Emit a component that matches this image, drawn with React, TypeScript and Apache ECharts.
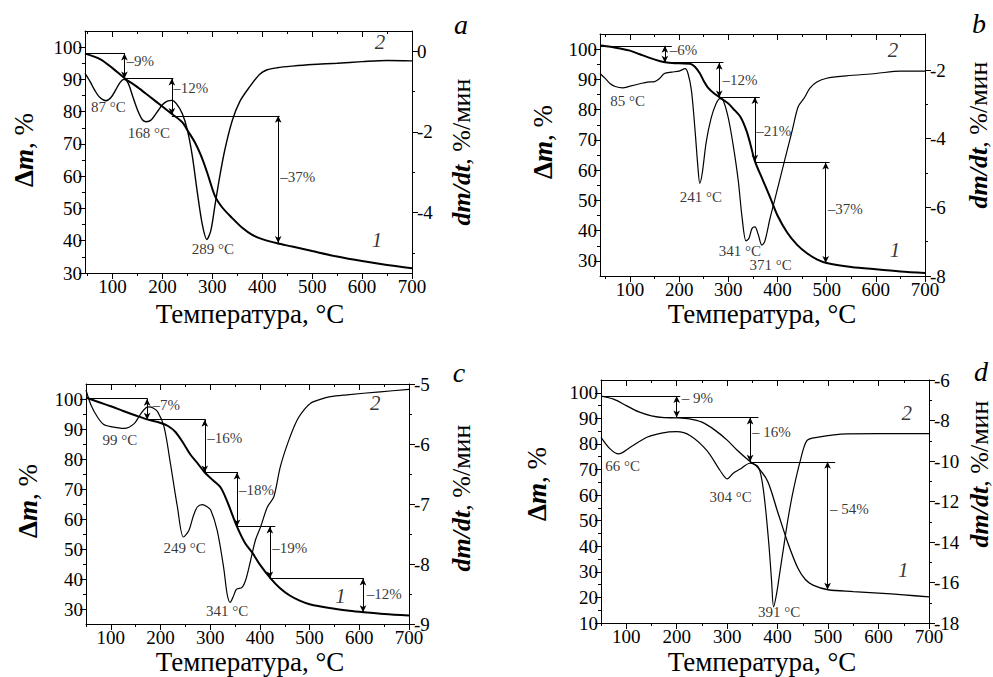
import React, { useEffect, useRef } from "react";
import * as echarts from "echarts";

const FONT = "Liberation Serif, serif";

// ---------- Panel a ----------
const tgTempA = [45, 75, 100, 125, 150, 175, 200, 220, 240, 252, 265, 277, 290, 305, 320, 340, 360, 380, 400, 430, 460, 500, 550, 600, 650, 700];
const tgA = [98, 96.3, 93.5, 90.3, 87.6, 84.6, 81.6, 79.2, 76.7, 73.8, 70.5, 66.5, 61, 54, 50.3, 47, 44, 41.8, 40.5, 39.2, 38.2, 36.8, 35.1, 33.7, 32.5, 31.5];
const dtgTempA = [45, 55, 65, 75, 87, 97, 107, 115, 123, 131, 140, 150, 160, 168, 178, 190, 200, 210, 219, 228, 240, 250, 260, 270, 280, 289, 297, 305, 315, 325, 340, 355, 375, 395, 410, 430, 460, 500, 550, 600, 650, 700];
const dtgA = [-0.55, -0.75, -0.98, -1.15, -1.23, -1.15, -0.95, -0.78, -0.7, -0.78, -1.1, -1.45, -1.7, -1.75, -1.7, -1.5, -1.33, -1.24, -1.22, -1.3, -1.55, -1.95, -2.6, -3.5, -4.3, -4.67, -4.45, -3.85, -3.1, -2.45, -1.72, -1.25, -0.88, -0.57, -0.46, -0.41, -0.37, -0.33, -0.3, -0.26, -0.23, -0.24];
const hLinesA = [[45, 125, 98], [124, 222, 90.3], [219, 435, 78.7]];
const arrowsA = [[124, 98, 90.3], [219, 90.3, 79], [432, 78.7, 39.3]];
const pctA = [["–9%", 128, 95.7], ["–12%", 222, 87.3], ["–37%", 436, 59.8]];
const peaksA = [["87 °C", 91.6, 81.5], ["168 °C", 173, 73.5], ["289 °C", 301, 37.4]];
const numsA = [["2", 636, 101.5], ["1", 630, 40.2]];

// ---------- Panel b ----------
const tgTempB = [39, 60, 80, 100, 120, 140, 160, 175, 200, 222, 232, 242, 250, 260, 270, 283, 300, 310, 325, 337, 345, 354, 371, 385, 400, 420, 440, 460, 480, 500, 550, 600, 650, 700];
const tgB = [101.2, 100.8, 100.2, 99.5, 98.3, 97.1, 96.1, 95.6, 95.3, 95.2, 94.2, 92, 89.5, 87, 85.5, 84, 82, 80.3, 77.5, 73, 68.5, 63, 56.4, 51, 45, 39.3, 35.3, 32.5, 30.5, 29.3, 28, 27.2, 26.5, 26];
const dtgTempB = [39, 50, 60, 70, 85, 100, 120, 135, 150, 160, 170, 185, 200, 212, 218, 225, 232, 238, 242, 247, 255, 265, 275, 283, 290, 300, 310, 320, 328, 336, 342, 348, 354, 361, 368, 374, 385, 400, 415, 430, 442, 455, 466, 480, 500, 540, 600, 650, 700];
const dtgB = [-2.1, -2.25, -2.4, -2.48, -2.52, -2.47, -2.4, -2.35, -2.34, -2.25, -2.1, -2.06, -2.03, -1.96, -2.1, -2.6, -3.7, -4.8, -5.3, -5.0, -4.1, -3.4, -2.98, -2.83, -2.9, -3.4, -4.2, -5.2, -6.3, -6.98, -6.9, -6.62, -6.57, -6.8, -7.1, -7.0, -6.31, -5.46, -4.6, -3.76, -3.07, -2.8, -2.53, -2.35, -2.24, -2.17, -2.1, -2.03, -2.03];
const hLinesB = [[39, 185, 101.1], [171, 290, 95.5], [281, 364, 84.2], [354, 506, 62.5]];
const arrowsB = [[171, 101.1, 95.5], [281.5, 95.5, 84], [354, 84.2, 62.8], [498, 62.5, 29.3]];
const pctB = [["–6%", 181, 99.8], ["–12%", 288, 89.8], ["–21%", 357, 73], ["–37%", 502, 47.3]];
const peaksB = [["85 °C", 95, 82.9], ["241 °C", 244, 51.2], ["341 °C", 323.6, 33.1], ["371 °C", 386, 28.7]];
const numsB = [["2", 635, 99.8], ["1", 639, 33.7]];

// ---------- Panel c ----------
const tgTempC = [50, 75, 100, 125, 150, 173, 200, 215, 230, 245, 260, 275, 289, 305, 321, 335, 353, 370, 385, 400, 421, 440, 460, 480, 500, 540, 580, 609, 650, 700];
const tgC = [100.5, 99, 97.6, 96, 94.5, 93.2, 92, 91, 89, 85.5, 81.5, 78.5, 75.5, 73, 70.5, 65.5, 57.8, 52, 48.7, 44.8, 40.3, 37, 34.5, 32.8, 31.6, 30.3, 29.4, 28.9, 28.3, 27.8];
const dtgTempC = [50, 60, 73, 85, 100, 127, 147, 160, 170, 177, 185, 194, 207, 220, 234, 246, 257, 266, 274, 284, 293, 301, 314, 327, 334, 340, 346, 353, 364, 372, 381, 391, 401, 415, 428, 441, 458, 475, 490, 502, 520, 542, 575, 642, 700];
const dtgC = [-5.1, -5.35, -5.55, -5.67, -5.71, -5.74, -5.66, -5.5, -5.4, -5.38, -5.4, -5.46, -5.71, -6.33, -7.05, -7.55, -7.44, -7.2, -7.05, -7.01, -7.04, -7.1, -7.44, -8.06, -8.5, -8.64, -8.55, -8.42, -8.39, -8.25, -7.95, -7.6, -7.39, -7.05, -6.88, -6.38, -5.94, -5.6, -5.42, -5.32, -5.26, -5.21, -5.18, -5.13, -5.09];
const hLinesC = [[50, 174, 100.1], [173, 291, 93.1], [289, 356, 75.5], [354, 431, 57.5], [420, 609, 40.2]];
const arrowsC = [[173, 100.1, 93.1], [289, 93.1, 75.5], [354, 75.5, 57.5], [420, 57.5, 40.2], [607.5, 40.2, 28.9]];
const pctC = [["–7%", 184, 98.1], ["–16%", 294, 87], ["–18%", 358, 69.8], ["–19%", 425, 50.3], ["–12%", 615, 35.1]];
const peaksC = [["99 °C", 118, 86.4], ["249 °C", 248.6, 50.3], ["341 °C", 334, 29.2]];
const numsC = [["2", 632, 98.6], ["1", 562, 34.2]];

// ---------- Panel d ----------
const tgTempD = [50, 75, 100, 125, 150, 175, 200, 225, 250, 275, 300, 320, 343, 360, 380, 400, 420, 440, 455, 470, 500, 550, 600, 650, 700];
const tgD = [98.7, 97.5, 95, 92.5, 91, 90.3, 90.2, 89.8, 88.5, 85.5, 81.5, 77.5, 73.5, 71, 65.5, 53.5, 41.5, 31.5, 27, 24.8, 23, 22.3, 21.7, 21, 20.2];
const dtgTempD = [50, 68, 85, 108, 141, 170, 200, 227, 260, 286, 300, 312, 326, 345, 362, 372, 382, 388, 392, 398, 405, 412, 421, 431, 445, 458, 478, 537, 600, 700];
const dtgD = [-8.83, -9.4, -9.65, -9.32, -8.83, -8.62, -8.55, -8.75, -9.49, -10.47, -10.88, -10.6, -10.4, -10.11, -10.31, -11.46, -13.92, -15.9, -17.2, -16.55, -15.4, -14.25, -12.8, -11.46, -9.98, -8.99, -8.83, -8.66, -8.65, -8.65];
const hLinesD = [[50, 207, 98.7], [200, 362, 90.3], [345, 514, 73]];
const arrowsD = [[200, 98.7, 90.3], [345.5, 90.3, 73], [499, 73, 23]];
const pctD = [["– 9%", 210, 97.8], ["– 16%", 349, 84.5], ["– 54%", 504, 54.6]];
const peaksD = [["66 °C", 93, 71.4], ["304 °C", 307, 59.4], ["391 °C", 403, 14.2]];
const numsD = [["2", 656, 92.1], ["1", 649, 30.8]];

// ---------- Ticks ----------
const xMajor = [100, 200, 300, 400, 500, 600, 700];
const xMinor = [50, 150, 250, 350, 450, 550, 650];
const leftMajor = [30, 40, 50, 60, 70, 80, 90, 100];
const leftMinor = [35, 45, 55, 65, 75, 85, 95];
const leftMajorD = [10, 20, 30, 40, 50, 60, 70, 80, 90, 100];
const leftMinorD = [15, 25, 35, 45, 55, 65, 75, 85, 95];
const rightMajorA = [0, -2, -4];
const rightMinorA = [-1, -3, -5];
const rightMajorB = [-2, -4, -6, -8];
const rightMinorB = [-3, -5, -7];
const rightMajorC = [-5, -6, -7, -8, -9];
const rightMinorC = [-5.5, -6.5, -7.5, -8.5];
const rightMajorD = [-6, -8, -10, -12, -14, -16, -18];
const rightMinorD = [-7, -9, -11, -13, -15, -17];

const panels = [
  { grid: { left: 85, top: 31, width: 327, height: 242 }, x: [45, 700], y: [30, 105], r: [-5.5, 0.5], yMaj: leftMajor, yMin: leftMinor, rMaj: rightMajorA, rMin: rightMinorA, tgT: tgTempA, tg: tgA, dT: dtgTempA, d: dtgA, tgW: 2, dW: 1.4, hl: hLinesA, ar: arrowsA, pct: pctA, peaks: peaksA, nums: numsA },
  { grid: { left: 600, top: 34, width: 325, height: 242 }, x: [39, 700], y: [25, 105], r: [-8, -0.95], yMaj: leftMajor, yMin: leftMinor, rMaj: rightMajorB, rMin: rightMinorB, tgT: tgTempB, tg: tgB, dT: dtgTempB, d: dtgB, tgW: 2, dW: 1.2, hl: hLinesB, ar: arrowsB, pct: pctB, peaks: peaksB, nums: numsB },
  { grid: { left: 86, top: 384, width: 323, height: 240 }, x: [50, 700], y: [25, 105], r: [-9, -5], yMaj: leftMajor, yMin: leftMinor, rMaj: rightMajorC, rMin: rightMinorC, tgT: tgTempC, tg: tgC, dT: dtgTempC, d: dtgC, tgW: 2, dW: 1.2, hl: hLinesC, ar: arrowsC, pct: pctC, peaks: peaksC, nums: numsC },
  { grid: { left: 601, top: 380, width: 328, height: 243 }, x: [50, 700], y: [10, 105], r: [-18, -6], yMaj: leftMajorD, yMin: leftMinorD, rMaj: rightMajorD, rMin: rightMinorD, tgT: tgTempD, tg: tgD, dT: dtgTempD, d: dtgD, tgW: 1.3, dW: 1.2, hl: hLinesD, ar: arrowsD, pct: pctD, peaks: peaksD, nums: numsD },
];

function axis(gridIndex: number, min: number, max: number, position: string, ticks: number[], opts: { labels: boolean; inside: boolean; len: number; line: boolean; margin?: number }) {
  return {
    type: "value",
    gridIndex,
    min,
    max,
    position,
    axisLine: { show: opts.line, onZero: false, lineStyle: { color: "#000", width: 1 } },
    axisTick: { show: true, inside: opts.inside, length: opts.len, customValues: ticks, lineStyle: { color: "#000", width: 1 } },
    axisLabel: { show: opts.labels, customValues: ticks, color: "#000", fontSize: 19, fontFamily: FONT, margin: opts.margin ?? 5 },
    splitLine: { show: false },
    minorTick: { show: false },
  };
}

function buildOption() {
  const xAxis: any[] = [];
  const yAxis: any[] = [];
  const series: any[] = [];
  const grid: any[] = [];
  panels.forEach((p, i) => {
    grid.push({ ...p.grid, containLabel: false });
    xAxis.push(axis(i, p.x[0], p.x[1], "bottom", xMajor, { labels: true, inside: false, len: 6, line: true, margin: 4 }));
    xAxis.push(axis(i, p.x[0], p.x[1], "bottom", xMinor, { labels: false, inside: false, len: 3, line: false }));
    xAxis.push(axis(i, p.x[0], p.x[1], "top", xMajor, { labels: false, inside: true, len: 6, line: true }));
    xAxis.push(axis(i, p.x[0], p.x[1], "top", xMinor, { labels: false, inside: true, len: 3, line: false }));
    yAxis.push(axis(i, p.y[0], p.y[1], "left", p.yMaj, { labels: true, inside: false, len: 6, line: true, margin: 3 }));
    yAxis.push(axis(i, p.y[0], p.y[1], "left", p.yMin, { labels: false, inside: false, len: 3, line: false }));
    yAxis.push(axis(i, p.r[0], p.r[1], "right", p.rMaj, { labels: true, inside: false, len: 6, line: true, margin: 5 }));
    yAxis.push(axis(i, p.r[0], p.r[1], "right", p.rMin, { labels: false, inside: false, len: 3, line: false }));
    const b = 4 * i;
    series.push({
      type: "line",
      xAxisIndex: b,
      yAxisIndex: b,
      data: p.tgT.map((t, k) => [t, p.tg[k]]),
      smooth: 0.3,
      symbol: "none",
      silent: true,
      z: 3,
      lineStyle: { color: "#000", width: p.tgW },
      markLine: {
        silent: true,
        symbol: ["none", "none"],
        label: { show: false },
        lineStyle: { color: "#000", width: 1, type: "solid" },
        emphasis: { disabled: true },
        data: p.hl.map(([x1, x2, y]) => [{ coord: [x1, y] }, { coord: [x2, y] }]),
      },
    });
    series.push({
      type: "line",
      xAxisIndex: b,
      yAxisIndex: b + 2,
      data: p.dT.map((t, k) => [t, p.d[k]]),
      smooth: 0.3,
      symbol: "none",
      silent: true,
      z: 2,
      lineStyle: { color: "#000", width: p.dW },
    });
    series.push({
      type: "scatter",
      xAxisIndex: b,
      yAxisIndex: b,
      symbolSize: 1,
      silent: true,
      itemStyle: { color: "rgba(0,0,0,0)" },
      label: { show: true, position: "inside", formatter: "{b}", color: "#000", fontFamily: FONT, fontSize: 15 },
      emphasis: { disabled: true },
      data: [
        ...p.pct.map(([t, x, y]) => ({ name: t, value: [x, y], label: { align: "left" } })),
        ...p.peaks.map(([t, x, y]) => ({ name: t, value: [x, y] })),
        ...p.nums.map(([t, x, y]) => ({ name: t, value: [x, y], label: { fontStyle: "italic", fontSize: 21 } })),
      ],
      markLine: {
        silent: true,
        symbol: ["arrow", "arrow"],
        symbolSize: [5, 7],
        label: { show: false },
        lineStyle: { color: "#000", width: 1, type: "solid" },
        emphasis: { disabled: true },
        data: p.ar.map(([x, y1, y2]) => [{ coord: [x, y1] }, { coord: [x, y2] }]),
      },
    });
  });

  const txt = (x: number, y: number, text: string, size: number, italic = false) => ({
    type: "text",
    x,
    y,
    silent: true,
    style: {
      text,
      font: `${italic ? "italic " : ""}${size}px ${FONT}`,
      fontSize: size,
      fontFamily: FONT,
      fontStyle: italic ? "italic" : "normal",
      fill: "#000",
      align: "center",
      verticalAlign: "middle",
      textAlign: "center",
      textVerticalAlign: "middle",
    },
  });
  const leftTitle = (x: number, y: number) => ({
    type: "text",
    x,
    y,
    rotation: Math.PI / 2,
    silent: true,
    style: {
      text: "{bd|Δ}{bi|m}{r|, %}",
      align: "center",
      verticalAlign: "middle",
      textAlign: "center",
      textVerticalAlign: "middle",
      fill: "#000",
      rich: {
        bd: { fontSize: 27, fontFamily: FONT, fill: "#000", fontWeight: "bold" },
        bi: { fontSize: 27, fontFamily: FONT, fill: "#000", fontWeight: "bold", fontStyle: "italic" },
        r: { fontSize: 27, fontFamily: FONT, fill: "#000" },
      },
    },
  });
  const rightTitle = (x: number, y: number) => ({
    type: "text",
    x,
    y,
    rotation: Math.PI / 2,
    silent: true,
    style: {
      text: "{bi|dm/dt}{r|, %/мин}",
      align: "center",
      verticalAlign: "middle",
      textAlign: "center",
      textVerticalAlign: "middle",
      fill: "#000",
      rich: {
        bi: { fontSize: 26, fontFamily: FONT, fill: "#000", fontWeight: "bold", fontStyle: "italic" },
        r: { fontSize: 26, fontFamily: FONT, fill: "#000" },
      },
    },
  });
  const graphic = [
    txt(250, 314, "Температура, °C", 27),
    txt(762, 314, "Температура, °C", 27),
    txt(250, 662, "Температура, °C", 27),
    txt(762, 662, "Температура, °C", 27),
    txt(461, 24, "a", 28, true),
    txt(979, 23, "b", 28, true),
    txt(459, 372, "c", 28, true),
    txt(981, 371, "d", 28, true),
    leftTitle(24, 150),
    leftTitle(543, 142),
    leftTitle(28, 501),
    leftTitle(537, 484),
    rightTitle(461, 152),
    rightTitle(978, 135),
    rightTitle(461, 498),
    rightTitle(979, 474),
  ];

  return { animation: false, backgroundColor: "#fff", textStyle: { fontFamily: FONT }, grid, xAxis, yAxis, series, graphic };
}

export default function App() {
  const ref = useRef<HTMLDivElement>(null);
  useEffect(() => {
    if (!ref.current) return;
    const chart = echarts.init(ref.current, undefined, { renderer: "svg" });
    chart.setOption(buildOption() as any);
    return () => chart.dispose();
  }, []);
  return <div ref={ref} style={{ position: "fixed", left: 0, top: 0, width: 993, height: 677 }} />;
}
